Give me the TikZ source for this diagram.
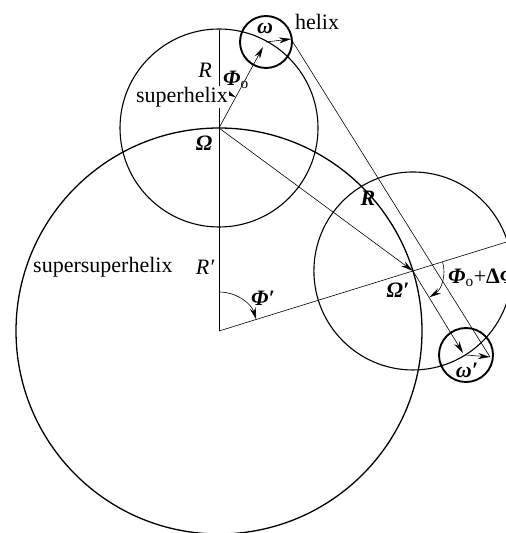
\documentclass[tikz,border=0pt]{standalone}
\usepackage{fontspec}
\setmainfont{Liberation Serif}
\usetikzlibrary{arrows.meta,calc}
\begin{document}
\begin{tikzpicture}[x=1pt,y=1pt,
  thin line/.style={line width=0.6pt},
  big circ/.style={line width=1.3pt},
  sup circ/.style={line width=1.1pt},
  hel circ/.style={line width=1.9pt},
  arr/.style={thin line,-{Stealth[length=12pt,width=6pt]}},
  lab/.style={font=\fontsize{22}{26}\selectfont, inner sep=1pt},
  gk/.style={lab, font=\fontsize{22}{26}\selectfont\bfseries\itshape}]
\useasboundingbox (0,0) rectangle (506,533);
\clip (0,0) rectangle (506,533);
% centres
\coordinate (C) at (219,202);
\coordinate (O) at (219,405);
\coordinate (P) at ($(C)+(17.2:203)$);
\coordinate (H) at (266,491);
\coordinate (Ht) at (263,486);
\coordinate (Wt) at (291,494);
\coordinate (Q) at (466,178);
\coordinate (Qt) at (463,180);
\coordinate (Vt) at (490,176);
\coordinate (Top) at (219,503);
\coordinate (Ext) at ($(C)+(17.2:330)$);
% circles
\draw[big circ] (C) circle[radius=203];
\draw[sup circ] (O) circle[radius=99];
\draw[sup circ] (P) circle[radius=99];
\draw[hel circ] (H) circle[radius=26];
\draw[hel circ] (Q) circle[radius=27];
% lines
\draw[thin line] (Top) -- (C);
\draw[thin line] (C) -- (Ext);
\draw[arr] (O) -- (Ht);
\draw[arr] (O) -- (P);
\draw[arr] (P) -- (Qt);
\draw[arr] (H) -- (Wt);
\draw[arr] (Q) -- (Vt);
\draw[thin line] (Wt) -- (Vt);
% angles
\draw[arr] ($(O)+(90:35)$) arc[start angle=90, end angle=61.6, radius=35];
\draw[arr] ($(C)+(90:39)$) arc[start angle=90, end angle=17.2, radius=39];
\draw[arr] ($(P)+(17.2:31)$) arc[start angle=17.2, end angle=-58, radius=31];
% labels
\node[lab] (lhelix) at (317,511) {helix};
\node[gk] (lw) at (265,505) {ω};
\node[lab, font=\fontsize{22}{26}\selectfont\itshape] (lR) at (205,463) {R};
\node[gk] (lPhi0) at (236,453) {Φ\textsubscript{\normalfont o}};
\node[lab, fill=white, anchor=east] (lsup) at (229,436) {superhelix};
\node[gk] (lO) at (204,390) {Ω};
\node[gk] (lRb) at (368,335) {R};
\node[lab, anchor=west] (lss) at (32,266) {supersuperhelix};
\node[lab, font=\fontsize{22}{26}\selectfont\itshape] (lRp) at (205,266) {R′};
\node[gk] (lPhip) at (263,235) {Φ′};
\node[gk] (lOp) at (398,243) {Ω′};
\node[gk, anchor=west] (lsum) at (447,255) {Φ\textsubscript{\normalfont o}\normalfont+\bfseries Δ\itshape Φ};
\node[gk] (lwp) at (467,163) {ω′};
\end{tikzpicture}
\end{document}
